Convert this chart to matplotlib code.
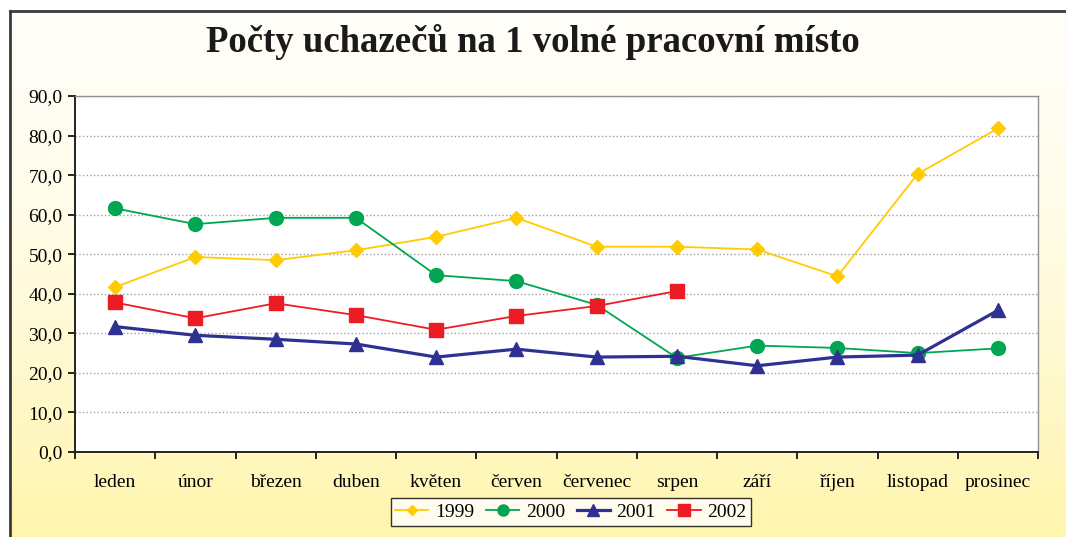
import matplotlib.pyplot as plt
import numpy as np

months = ["leden", "únor", "březen", "duben", "květen", "červen",
          "červenec", "srpen", "září", "říjen", "listopad", "prosinec"]
y1999 = [41.7, 49.3, 48.5, 51.0, 54.4, 59.2, 51.9, 51.9, 51.2, 44.4, 70.3, 81.8]
y2000 = [61.6, 57.6, 59.2, 59.2, 44.7, 43.2, 37.2, 23.8, 26.9, 26.3, 25.0, 26.2]
y2001 = [31.7, 29.5, 28.5, 27.3, 24.0, 26.0, 24.0, 24.2, 21.8, 24.0, 24.5, 35.8]
y2002 = [37.8, 33.8, 37.6, 34.6, 30.9, 34.4, 36.9, 40.7]
yticks = np.arange(0, 91, 10)

plt.rcParams['font.family'] = ['Liberation Serif', 'DejaVu Serif']


def main():
    fig = plt.figure(figsize=(10.66, 5.37), dpi=100)

    # background: white -> pale yellow gradient with frame
    bg = fig.add_axes([0, 0, 1, 1], zorder=-1)
    t = np.linspace(0, 1, 300) ** 1.6
    top = np.array([255, 254, 248]) / 255
    bot = np.array([255, 245, 172]) / 255
    grad = top[None, :] * (1 - t[:, None]) + bot[None, :] * t[:, None]
    grad = np.repeat(grad[:, None, :], 2, axis=1)
    bg.imshow(grad, aspect='auto', extent=[0, 1, 0, 1], origin='upper')
    fx, fy = 9.5 / 1066, 1 - 10.5 / 537
    bg.fill_between([0, 1], fy, 1, color='white', zorder=2)
    bg.fill_between([0, fx], 0, 1, color='white', zorder=2)
    bg.plot([fx, 1], [fy, fy], color='#3a3a3a', lw=2, zorder=3)
    bg.plot([fx, fx], [0, fy], color='#3a3a3a', lw=2, zorder=3)
    bg.set_xlim(0, 1)
    bg.set_ylim(0, 1)
    bg.axis('off')

    ax = fig.add_axes([75 / 1066, 1 - 452 / 537, 963 / 1066, 356 / 537])
    ax.set_facecolor('white')
    x = np.arange(len(months))

    ax.plot(x, y1999, color='#FFCC00', lw=1.3, marker='D', ms=7,
            label='1999', zorder=3)
    ax.plot(x, y2000, color='#00A651', lw=1.3, marker='o', ms=10,
            label='2000', zorder=3)
    ax.plot(x, y2001, color='#2E3192', lw=2.3, marker='^', ms=10,
            label='2001', zorder=4)
    ax.plot(np.arange(len(y2002)), y2002, color='#ED1C24', lw=1.3,
            marker='s', ms=10, label='2002', zorder=3)

    ax.set_xlim(-0.5, len(months) - 0.5)
    ax.set_ylim(0, 90)
    ax.set_yticks(yticks)
    ax.set_yticklabels(["{:.1f}".format(v).replace('.', ',') for v in yticks],
                       fontsize=14)
    ax.set_xticks(x)
    ax.set_xticklabels(months, fontsize=14)
    ax.set_xticks(np.arange(-0.5, len(months)), minor=True)
    ax.tick_params(axis='x', which='major', length=0, pad=16)
    ax.tick_params(axis='x', which='minor', length=5, width=1.2)
    ax.tick_params(axis='y', length=5, width=1.2, pad=4)
    ax.grid(axis='y', color='#a0a0a0', ls=':', lw=1)
    ax.set_axisbelow(True)
    for s in ['left', 'bottom']:
        ax.spines[s].set_color('#222222')
        ax.spines[s].set_linewidth(1.4)
    for s in ['top', 'right']:
        ax.spines[s].set_color('#909090')
        ax.spines[s].set_linewidth(1)

    fig.text(0.5, 1 - 42 / 537, "Počty uchazečů na 1 volné pracovní místo",
             ha='center', va='center', fontsize=26.5, fontweight='bold',
             color='#1a1a1a')

    leg = fig.legend(loc='center', bbox_to_anchor=(571 / 1066, 1 - 512 / 537),
                     ncol=4, fontsize=14, frameon=True, fancybox=False,
                     handlelength=1.7, columnspacing=0.6, handletextpad=0.35,
                     borderpad=0.25, borderaxespad=0, markerscale=0.8)
    leg.get_frame().set_edgecolor('black')
    leg.get_frame().set_linewidth(1)

    fig.savefig('out.png', dpi=100)


if __name__ == "__main__":
    main()
